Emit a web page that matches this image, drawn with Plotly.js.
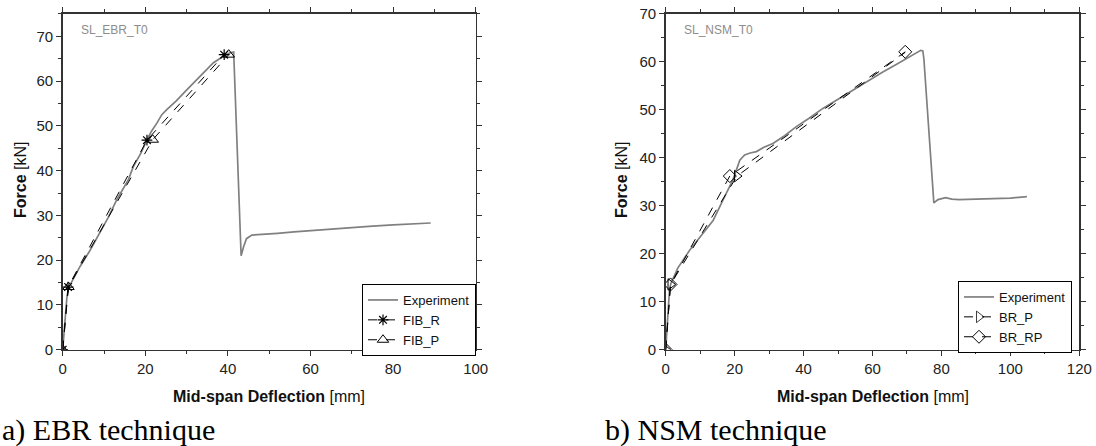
<!DOCTYPE html>
<html>
<head>
<meta charset="utf-8">
<script src="https://cdn.plot.ly/plotly-3.0.1.min.js"></script>
<style>html,body{margin:0;padding:0;background:#fff;}#chart{width:1096px;height:446px;}</style>
</head>
<body>
<div id="chart"></div>
<script>
// ---- Data: (a) EBR technique ----
const ebrExpX = [0, 0.3, 0.6, 1.0, 1.4, 2.5, 4.2, 6.5, 9.0, 11.0, 13.1, 15.9, 17.1, 19.0, 20.4, 21.5, 22.8, 24.0, 25.2, 27.5, 30.1, 33.0, 36.5, 39.0, 40.5, 41.4, 43.2, 43.8, 44.5, 45.8, 48, 52, 56, 60, 65, 70, 75, 80, 85, 89.1];
const ebrExpY = [0, 3.5, 8.1, 11.5, 13.8, 15.6, 18.6, 22.0, 26.0, 29.5, 33.5, 38.0, 40.9, 44.0, 46.9, 48.8, 50.6, 52.5, 53.6, 55.6, 58.1, 60.8, 64.1, 65.6, 66.3, 66.5, 21.0, 23.0, 24.8, 25.6, 25.8, 26.0, 26.3, 26.6, 26.9, 27.3, 27.6, 27.9, 28.1, 28.3];
const fibRX = [0, 1.3, 20.4, 39.1];
const fibRY = [0, 14.0, 46.8, 65.9];
const fibPX = [0, 1.4, 21.8, 40.2];
const fibPY = [0, 14.0, 46.9, 65.9];

// ---- Data: (b) NSM technique ----
const nsmExpX = [0, 0.3, 0.7, 1.1, 1.5, 3.5, 7.0, 10.5, 13.8, 16.5, 19.5, 21.5, 22.9, 24.5, 26.3, 28.5, 31.1, 34.5, 37.9, 41.5, 45.6, 50, 55, 59, 63, 67, 70, 72.5, 74.0, 74.6, 74.9, 77.8, 79.0, 81.2, 83, 85.1, 88.9, 92, 96.6, 100, 104.8];
const nsmExpY = [0, 4.0, 9.0, 12.5, 13.8, 17.0, 20.8, 24.0, 27.0, 31.0, 35.4, 39.5, 40.6, 41.0, 41.3, 42.2, 43.0, 44.6, 46.5, 48.2, 50.3, 52.2, 54.4, 56.2, 57.9, 59.5, 60.8, 61.8, 62.4, 62.3, 60.7, 30.6, 31.3, 31.7, 31.4, 31.3, 31.4, 31.4, 31.5, 31.6, 31.9];
const brPX = [0, 1.4, 20.7, 69.5];
const brPY = [0, 13.6, 36.2, 62.0];
const brRPX = [0, 1.4, 18.6, 69.5];
const brRPY = [0, 13.6, 36.2, 62.1];

// ---- Labels ----
const panelTags = ["SL_EBR_T0", "SL_NSM_T0"];
const captions = ["a) EBR technique", "b) NSM technique"];
const xTitle = "<b>Mid-span Deflection</b> [mm]";
const yTitle = "<b>Force</b> [kN]";

const W = 1096, H = 446;
const px = v => v / W;
const py = v => (H - v) / H;

const gray = '#808080';
const expLine = {color: gray, width: 1.7};
const simLine = {color: '#000', width: 1, dash: 'dash'};

const traces = [
  {x: ebrExpX, y: ebrExpY, name: 'Experiment', mode: 'lines', line: expLine, xaxis: 'x', yaxis: 'y', legend: 'legend'},
  {x: fibRX, y: fibRY, name: 'FIB_R', mode: 'lines+markers', line: simLine,
   marker: {symbol: 'asterisk-open', size: 9, color: '#000', line: {color: '#000', width: 1.2}}, xaxis: 'x', yaxis: 'y', legend: 'legend'},
  {x: fibPX, y: fibPY, name: 'FIB_P', mode: 'lines+markers', line: simLine,
   marker: {symbol: 'triangle-up-open', size: 10, color: '#000', line: {color: '#000', width: 1}}, xaxis: 'x', yaxis: 'y', legend: 'legend'},
  {x: nsmExpX, y: nsmExpY, name: 'Experiment', mode: 'lines', line: expLine, xaxis: 'x2', yaxis: 'y2', legend: 'legend2'},
  {x: brPX, y: brPY, name: 'BR_P', mode: 'lines+markers', line: simLine,
   marker: {symbol: 'triangle-right-open', size: 10, color: '#000', opacity: [1, 1, 1, 0], line: {color: '#000', width: 1}}, xaxis: 'x2', yaxis: 'y2', legend: 'legend2'},
  {x: brRPX, y: brRPY, name: 'BR_RP', mode: 'lines+markers', line: simLine,
   marker: {symbol: 'diamond-open', size: 10, color: '#000', line: {color: '#000', width: 1}}, xaxis: 'x2', yaxis: 'y2', legend: 'legend2'}
];

const tickFont = {family: 'Liberation Sans, Arial, sans-serif', size: 15, color: '#222'};
function xax(domain, range, anchor) {
  return {domain: domain, range: range, anchor: anchor, dtick: 20, tick0: 0,
    showgrid: false, zeroline: false, showline: true, linecolor: '#333', linewidth: 1.5,
    mirror: 'ticks', ticks: 'outside', ticklen: 5, tickwidth: 1, tickcolor: '#333',
    minor: {dtick: 10, ticks: 'outside', ticklen: 3, tickwidth: 1, tickcolor: '#333'},
    tickfont: tickFont, fixedrange: true};
}
function yax(range, anchor) {
  return {domain: [0.2159, 0.9688], range: range, anchor: anchor, dtick: 10, tick0: 0,
    showgrid: false, zeroline: false, showline: true, linecolor: '#333', linewidth: 1.5,
    mirror: 'ticks', ticks: 'outside', ticklen: 5, tickwidth: 1, tickcolor: '#333',
    minor: {dtick: 5, ticks: 'outside', ticklen: 3, tickwidth: 1, tickcolor: '#333'},
    tickfont: tickFont, fixedrange: true};
}

const titleFont = {family: 'Liberation Sans, Arial, sans-serif', size: 16, color: '#111'};
const capFont = {family: 'Liberation Serif, Times New Roman, serif', size: 30, color: '#000'};
const tagFont = {family: 'Liberation Sans, Arial, sans-serif', size: 12, color: '#8c8c8c'};

const annotations = [
  {text: xTitle, x: px(269), y: py(396), xref: 'paper', yref: 'paper', showarrow: false, font: titleFont, xanchor: 'center', yanchor: 'middle'},
  {text: xTitle, x: px(872.5), y: py(396), xref: 'paper', yref: 'paper', showarrow: false, font: titleFont, xanchor: 'center', yanchor: 'middle'},
  {text: yTitle, x: px(20), y: py(180), xref: 'paper', yref: 'paper', showarrow: false, font: titleFont, textangle: -90, xanchor: 'center', yanchor: 'middle'},
  {text: yTitle, x: px(621), y: py(180), xref: 'paper', yref: 'paper', showarrow: false, font: titleFont, textangle: -90, xanchor: 'center', yanchor: 'middle'},
  {text: panelTags[0], x: px(79), y: py(30), xref: 'paper', yref: 'paper', showarrow: false, font: tagFont, xanchor: 'left', yanchor: 'middle'},
  {text: panelTags[1], x: px(682), y: py(30), xref: 'paper', yref: 'paper', showarrow: false, font: tagFont, xanchor: 'left', yanchor: 'middle'},
  {text: captions[0], x: px(0), y: py(430), xref: 'paper', yref: 'paper', showarrow: false, font: capFont, xanchor: 'left', yanchor: 'middle'},
  {text: captions[1], x: px(603), y: py(430), xref: 'paper', yref: 'paper', showarrow: false, font: capFont, xanchor: 'left', yanchor: 'middle'}
];

const legendBase = {bgcolor: '#fff', bordercolor: '#000', borderwidth: 1,
  font: {family: 'Liberation Sans, Arial, sans-serif', size: 13, color: '#111'},
  xanchor: 'left', yanchor: 'top', itemwidth: 30, tracegroupgap: 0, itemclick: false, itemdoubleclick: false};

const layout = {
  width: W, height: H,
  margin: {l: 0, r: 0, t: 0, b: 0},
  paper_bgcolor: '#fff', plot_bgcolor: '#fff',
  showlegend: true,
  xaxis: xax([px(62.7), px(475.7)], [0, 100], 'y'),
  yaxis: yax([0, 75], 'x'),
  xaxis2: xax([px(665.7), px(1079.3)], [0, 120], 'y2'),
  yaxis2: yax([0, 70], 'x2'),
  legend: Object.assign({}, legendBase, {x: px(362), y: py(284)}),
  legend2: Object.assign({}, legendBase, {x: px(958), y: py(281)}),
  annotations: annotations
};

Plotly.newPlot('chart', traces, layout, {staticPlot: true, displayModeBar: false});
</script>
</body>
</html>
